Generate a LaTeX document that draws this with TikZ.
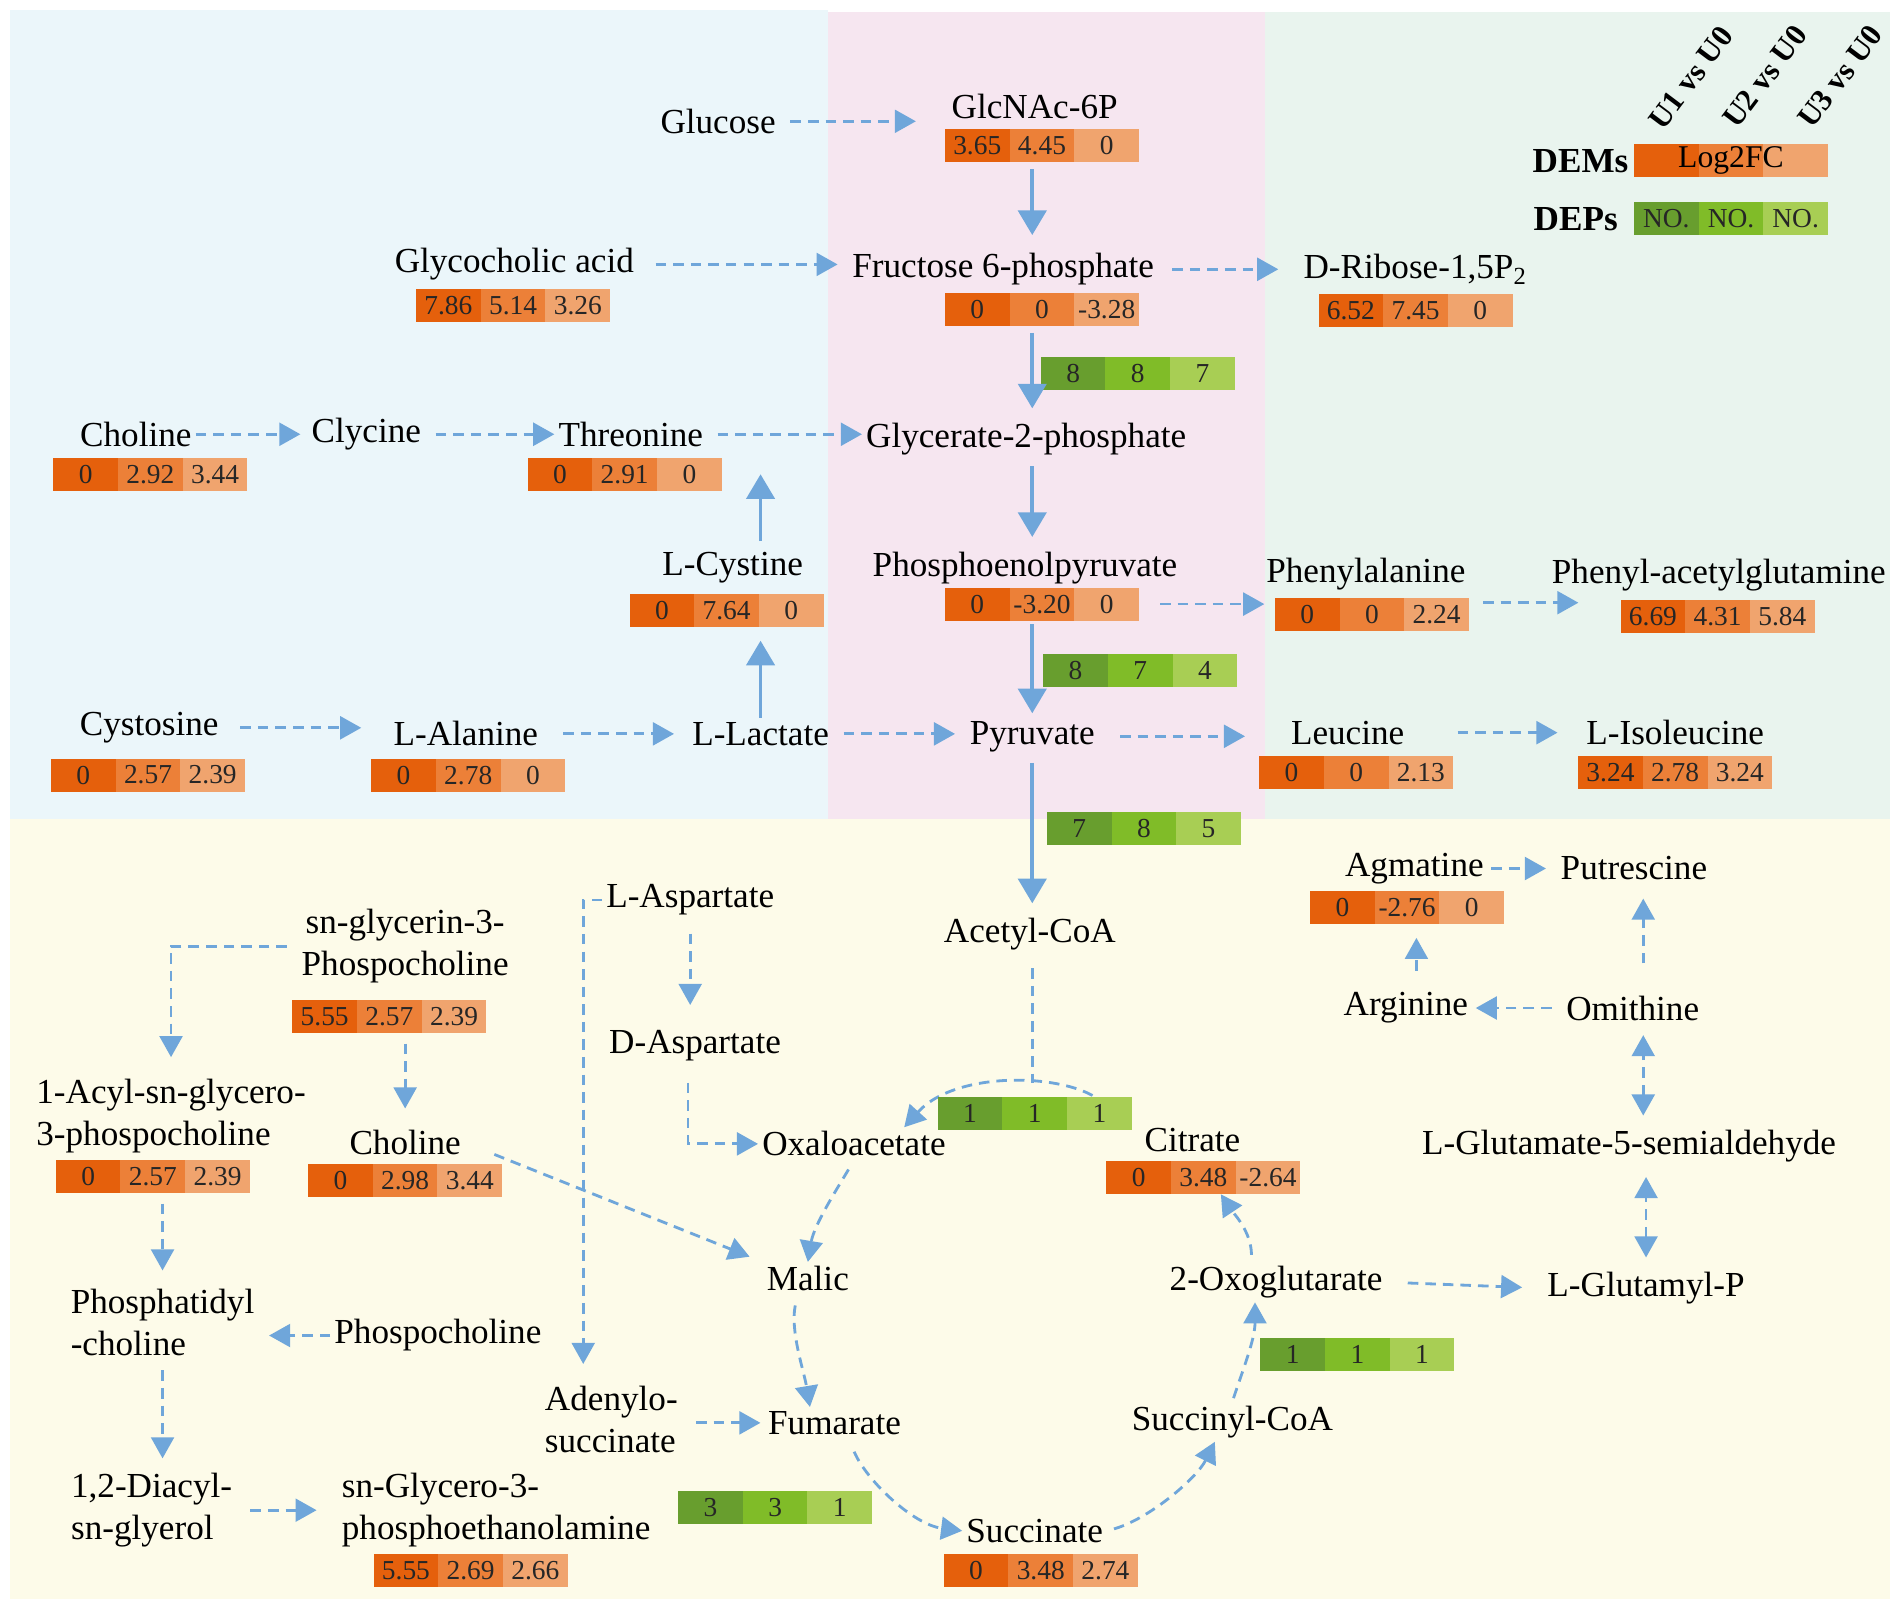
\documentclass[tikz,border=0pt]{standalone}
\usepackage{fontspec}
\setmainfont{Liberation Serif}
\usepackage{xcolor}
\usepackage{tikz}
\usetikzlibrary{calc}
\usetikzlibrary{arrows.meta}

\definecolor{bgblue}{RGB}{235,246,250}
\definecolor{bgpink}{RGB}{246,230,240}
\definecolor{bggreen}{RGB}{233,244,238}
\definecolor{bgyellow}{RGB}{253,251,233}
\definecolor{demA}{RGB}{229,96,12}
\definecolor{demB}{RGB}{236,128,56}
\definecolor{demC}{RGB}{240,164,110}
\definecolor{depA}{RGB}{104,158,46}
\definecolor{depB}{RGB}{128,188,40}
\definecolor{depC}{RGB}{168,206,84}
\definecolor{flow}{RGB}{111,166,218}

\newcommand{\trio}[6]{%
  \node[#1a] (#2-1) at ([xshift=-0.647cm]#3) {#4};
  \node[#1b] (#2-2) at (#3) {#5};
  \node[#1c] (#2-3) at ([xshift=0.647cm]#3) {#6};}

\begin{document}
\begin{tikzpicture}[x=0.01213cm,y=-0.01213cm,
  lbl/.style={font=\fontsize{10}{12}\selectfont,inner sep=1pt,align=center},
  cell/.style={minimum width=0.647cm,minimum height=0.33cm,inner sep=0pt,outer sep=0pt,font=\fontsize{7.8}{9}\selectfont,text=black!85},
  dema/.style={cell,fill=demA},demb/.style={cell,fill=demB},demc/.style={cell,fill=demC},
  depa/.style={cell,fill=depA},depb/.style={cell,fill=depB},depc/.style={cell,fill=depC},
  sflow/.style={draw=flow,line width=1.1pt,-{Triangle[length=7pt,width=8pt]}},
  dline/.style={draw=flow,line width=0.8pt,dash pattern=on 3pt off 2pt},
  dflow/.style={dline,-{Triangle[length=6pt,width=6.5pt]}},
  dboth/.style={dline,{Triangle[length=6pt,width=6.5pt]}-{Triangle[length=6pt,width=6.5pt]}},
  vslbl/.style={font=\bfseries\fontsize{8.8}{10}\selectfont,inner sep=0pt,rotate=53}]
\useasboundingbox (0,0) rectangle (1568,1325);

% Panels
\fill[white] (0,0) rectangle (1568,1325);
\fill[bgblue] (8,8) rectangle (683,675);
\fill[bgpink] (683,10) rectangle (1043,675);
\fill[bggreen] (1043,10) rectangle (1558,675);
\fill[bgyellow] (8,675) rectangle (1558,1318);

% Legend
\node[vslbl] (u1) at (1394,64) {U1 vs U0};
\node[vslbl] (u2) at (1455,63) {U2 vs U0};
\node[vslbl] (u3) at (1517,63) {U3 vs U0};
\node[lbl,font=\bfseries\fontsize{10}{12}\selectfont] (demlab) at (1303,133) {DEMs};
\trio{dem}{legdem}{1427,132}{}{}{}
\node[lbl,font=\fontsize{9}{11}\selectfont] (logfc) at (legdem-2) {Log2FC};
\node[lbl,font=\bfseries\fontsize{10}{12}\selectfont] (deplab) at (1299,181) {DEPs};
\trio{dep}{legdep}{1427,180}{NO.}{NO.}{NO.}

% Upper metabolites
\node[lbl] (glucose) at (592,100) {Glucose};
\node[lbl] (glcnac) at (853,88) {GlcNAc-6P};
\trio{dem}{glcnacfc}{859,120}{3.65}{4.45}{0}
\node[lbl] (glyco) at (424,218) {Glycocholic acid};
\trio{dem}{glycofc}{423,252}{7.86}{5.14}{3.26}
\node[lbl] (fru) at (827,222) {Fructose 6-phosphate};
\trio{dem}{frufc}{859,255}{0}{0}{-3.28}
\node[lbl] (ribose) at (1167,222) {D-Ribose-1,5P\textsubscript{2}};
\trio{dem}{ribosefc}{1167,256}{6.52}{7.45}{0}
\trio{dep}{depa}{938,308}{8}{8}{7}
\node[lbl] (cholA) at (112,358) {Choline};
\trio{dem}{cholAfc}{124,391}{0}{2.92}{3.44}
\node[lbl] (clycine) at (302,358) {Clycine};
\node[lbl] (threo) at (520,358) {Threonine};
\trio{dem}{threofc}{515,391}{0}{2.91}{0}
\node[lbl] (g2p) at (846,362) {Glycerate-2-phosphate};
\node[lbl] (cystine) at (604,468) {L-Cystine};
\trio{dem}{cystinefc}{599,503}{0}{7.64}{0}
\node[lbl] (pep) at (845,468) {Phosphoenolpyruvate};
\trio{dem}{pepfc}{859,498}{0}{-3.20}{0}
\node[lbl] (phe) at (1126,473) {Phenylalanine};
\trio{dem}{phefc}{1131,507}{0}{0}{2.24}
\node[lbl] (phag) at (1417,474) {Phenyl-acetylglutamine};
\trio{dem}{phagfc}{1416,508}{6.69}{4.31}{5.84}
\trio{dep}{depb}{940,553}{8}{7}{4}
\node[lbl] (cyto) at (123,600) {Cystosine};
\trio{dem}{cytofc}{122,639}{0}{2.57}{2.39}
\node[lbl] (ala) at (384,605) {L-Alanine};
\trio{dem}{alafc}{386,639}{0}{2.78}{0}
\node[lbl] (lac) at (627,605) {L-Lactate};
\node[lbl] (pyr) at (851,607) {Pyruvate};
\node[lbl] (leu) at (1111,604) {Leucine};
\trio{dem}{leufc}{1118,637}{0}{0}{2.13}
\node[lbl] (ile) at (1381,604) {L-Isoleucine};
\trio{dem}{ilefc}{1381,637}{3.24}{2.78}{3.24}
\trio{dep}{depc}{943,683}{7}{8}{5}

% Upper connectors
\draw[sflow,shorten <=2pt,shorten >=4pt] (glcnacfc-2.south -| pyr) -- (fru.north -| pyr);
\draw[sflow,shorten <=2pt,shorten >=3pt] (frufc-2.south -| pyr) -- (g2p.north -| pyr);
\draw[sflow,shorten <=2pt,shorten >=3pt] (g2p.south -| pyr) -- (pep.north -| pyr);
\draw[sflow,shorten <=1pt,shorten >=1pt] (pepfc-2.south -| pyr) -- (pyr.north);
\draw[sflow,shorten >=4pt] (lac.north) -- (lac.north |- cystinefc-2.south);
\draw[sflow,shorten <=2pt] (lac.north |- cystine.north) -- (lac.north |- threofc-3.center);
\draw[dflow,shorten <=3pt,shorten >=9pt] (glucose.east) -- (glucose.east -| glcnac.west);
\draw[dflow,shorten <=5pt,shorten >=3pt] (glyco.east) -- (glyco.east -| fru.west);
\draw[dflow,shorten <=4pt,shorten >=6pt] (fru.east) -- (fru.east -| ribose.west);
\draw[dflow,shorten <=0pt,shorten >=2pt] (cholA.east) -- (clycine.west);
\draw[dflow,shorten <=3pt,shorten >=0pt] (clycine.east) -- (clycine.east -| threo.west);
\draw[dflow,shorten <=3pt,shorten >=0pt] (threo.east) -- (threo.east -| g2p.west);
\draw[dflow,shorten <=6pt,shorten >=3pt] (pepfc-3.east) -- (pepfc-3.east -| phefc-1.west);
\draw[dflow,shorten <=4pt,shorten >=12pt] ([yshift=3.5pt]phefc-3.east) -- ([yshift=3.5pt]phefc-3.east -| phagfc-1.west);
\draw[dflow,shorten <=5pt,shorten >=8pt] (cyto.east) -- (cyto.east -| ala.west);
\draw[dflow,shorten <=6pt,shorten >=4pt] (ala.east) -- (ala.east -| lac.west);
\draw[dflow,shorten <=3pt,shorten >=3pt] (lac.east) -- (lac.east -| pyr.west);
\draw[dflow,shorten <=6pt,shorten >=4pt] (pyr.east) -- (pyr.east -| leufc-1.west);
\draw[dflow,shorten <=14pt,shorten >=7pt] (leu.east) -- (leu.east -| ile.west);

% Lower metabolites
\node[lbl] (acoa) at (849,770) {Acetyl-CoA};
\node[lbl] (lasp) at (569,742) {L-Aspartate};
\node[lbl] (dasp) at (573,862) {D-Aspartate};
\node[lbl] (oaa) at (704,943) {Oxaloacetate};
\node[lbl] (cit) at (983,940) {Citrate};
\trio{dem}{citfc}{992,971}{0}{3.48}{-2.64}
\node[lbl] (malic) at (666,1054) {Malic};
\node[lbl] (snglyc) at (334,780) {sn-glycerin-3-\\Phospocholine};
\trio{dem}{snglycfc}{321,838}{5.55}{2.57}{2.39}
\node[lbl,align=left] (acyl) at (141,920) {1-Acyl-sn-glycero-\\3-phospocholine};
\trio{dem}{acylfc}{126,970}{0}{2.57}{2.39}
\node[lbl] (chol2) at (334,942) {Choline};
\trio{dem}{chol2fc}{334,973}{0}{2.98}{3.44}
\node[lbl,align=left] (ptdch) at (134,1090) {Phosphatidyl\\-choline};
\node[lbl] (phoch) at (361,1101) {Phospocholine};
\node[lbl,align=left] (diacyl) at (125,1245) {1,2-Diacyl-\\sn-glyerol};
\node[lbl,align=left] (snge) at (409,1245) {sn-Glycero-3-\\phosphoethanolamine};
\trio{dem}{sngefc}{388,1295}{5.55}{2.69}{2.66}
\node[lbl,align=left] (adeno) at (504,1170) {Adenylo-\\succinate};
\node[lbl] (fum) at (688,1173) {Fumarate};
\node[lbl] (succ) at (853,1262) {Succinate};
\trio{dem}{succfc}{858,1295}{0}{3.48}{2.74}
\node[lbl] (succoa) at (1016,1172) {Succinyl-CoA};
\node[lbl] (oxog) at (1052,1057) {2-Oxoglutarate};
\node[lbl] (glup) at (1357,1062) {L-Glutamyl-P};
\node[lbl] (g5s) at (1343,945) {L-Glutamate-5-semialdehyde};
\node[lbl] (orn) at (1346,831) {Omithine};
\node[lbl] (arg) at (1159,831) {Arginine};
\node[lbl] (agm) at (1166,716) {Agmatine};
\trio{dem}{agmfc}{1160,748}{0}{-2.76}{0}
\node[lbl] (put) at (1347,716) {Putrescine};

% Pyruvate into the TCA cycle
\draw[sflow,shorten <=2pt,shorten >=3pt] (pyr.south) -- (pyr.south |- acoa.north);

% TCA cycle
\coordinate (tcatop) at (851,893);
\coordinate (arcR) at (912,912);
\draw[dline,shorten <=4pt] (acoa.south -| tcatop) -- (tcatop);
\draw[dflow] (arcR) .. controls (890,885) and (790,880) .. ([xshift=-13pt]oaa.north east);
\trio{dep}{depd}{853,918}{1}{1}{1}
\draw[dflow,shorten <=3pt] (oaa.south) .. controls +(-15,25) and +(5,-30) .. (malic.north);
\draw[dflow,shorten <=3pt] ([xshift=-3pt]malic.south) .. controls +(-6,30) and +(-5,-30) .. ([xshift=-7pt]fum.north);
\draw[dflow,shorten <=4pt] ([xshift=4pt]fum.south) .. controls +(15,35) and +(-40,-5) .. (succ.west);
\draw[dflow,shorten <=2pt] (succ.east) .. controls +(35,-10) and +(-15,30) .. ([xshift=-5pt]succoa.south);
\draw[dflow,shorten <=1pt] (succoa.north) .. controls +(10,-30) and +(0,30) .. ([xshift=-6pt]oxog.south);
\draw[dflow,shorten <=2pt] ([xshift=-7pt]oxog.north) .. controls +(0,-25) and +(10,15) .. ([xshift=5pt]citfc-2.south);
\trio{dep}{depe}{639,1243}{3}{3}{1}
\trio{dep}{depf}{1119,1117}{1}{1}{1}

% Lower connectors
\draw[dflow,shorten >=5pt] (lasp.west) -| ([xshift=-8pt]adeno.north);
\draw[dflow,shorten <=4pt,shorten >=6pt] (lasp.south) -- (lasp.south |- dasp.north);
\draw[dflow,shorten <=5pt] ([xshift=-2pt]dasp.south) |- (oaa.west);
\draw[dflow,shorten <=9pt,shorten >=4pt] (chol2.east) -- (malic.north west);
\draw[dflow,shorten <=3pt,shorten >=5pt] (snglyc.west) -| (acyl.north);
\draw[dflow,shorten <=3pt,shorten >=5pt] (snglycfc-2.south -| chol2) -- (chol2.north);
\draw[dflow,shorten <=3pt,shorten >=4pt] (acylfc-2.south -| ptdch) -- (ptdch.north);
\draw[dflow,shorten <=0pt,shorten >=3pt] (phoch.west) -- (phoch.west -| ptdch.east);
\draw[dflow,shorten <=3pt,shorten >=3pt] (ptdch.south) -- (ptdch.south |- diacyl.north);
\draw[dflow,shorten <=4pt,shorten >=6pt] (diacyl.east) -- (diacyl.east -| snge.west);
\draw[dflow,shorten <=4pt,shorten >=1pt] (adeno.east |- fum) -- (fum.west);
\draw[dflow,shorten <=6pt,shorten >=6pt] (oxog.east) -- (glup.west);
\draw[dboth,shorten <=3pt,shorten >=3pt] (glup.north) -- (glup.north |- g5s.south);
\draw[dboth,shorten <=3pt,shorten >=3pt] ([xshift=3pt]g5s.north -| orn) -- ([xshift=3pt]orn.south);
\draw[dflow,shorten <=3pt,shorten >=1pt] (orn.west) -- (arg.east);
\draw[dflow,shorten <=5pt,shorten >=4pt] ([xshift=3pt]arg.north) -- ([xshift=3pt]arg.north |- agmfc-2.south);
\draw[dflow,shorten <=1pt,shorten >=3pt] (agm.east) -- (put.west);
\draw[dflow,shorten <=8pt,shorten >=4pt] ([xshift=3pt]orn.north) -- ([xshift=3pt]orn.north |- put.south);
\end{tikzpicture}
\end{document}
